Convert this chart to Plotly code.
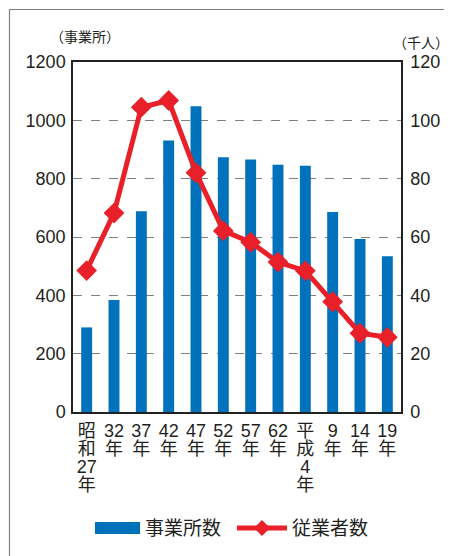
import plotly.graph_objects as go

categories = ["昭和27年", "32年", "37年", "42年", "47年", "52年", "57年", "62年", "平成4年", "9年", "14年", "19年"]
tick_label_lines = [["昭", "和", "27", "年"], ["32", "年"], ["37", "年"], ["42", "年"], ["47", "年"],
                    ["52", "年"], ["57", "年"], ["62", "年"], ["平", "成", "4", "年"], ["9", "年"],
                    ["14", "年"], ["19", "年"]]
establishments = [290, 384, 688, 931, 1048, 873, 866, 848, 844, 686, 593, 534]
employees = [48.5, 68.2, 104.5, 106.8, 82.0, 62.1, 58.2, 51.4, 48.4, 37.8, 27.0, 25.6]
left_ticks = [0, 200, 400, 600, 800, 1000, 1200]
right_ticks = [0, 20, 40, 60, 80, 100, 120]

BLUE = "#0071bb"
RED = "#e8202a"
TXT = "#231f20"
FONT = "Liberation Sans, Noto Sans CJK JP, sans-serif"

fig = go.Figure()
fig.add_trace(go.Bar(x=categories, y=establishments, width=0.4, marker=dict(color=BLUE, line=dict(width=0)),
                     name="事業所数", showlegend=False))
fig.add_trace(go.Scatter(x=categories, y=employees, yaxis="y2", mode="lines+markers",
                         line=dict(color=RED, width=5), marker=dict(symbol="diamond", size=16, color=RED),
                         name="従業者数", showlegend=False))

# page body has an 8px default margin; figure sized to fit the window
OFF = 8
W, H = 452 - OFF, 556 - OFF
L, T = 73 - OFF, 62 - OFF
R = W - (401 - OFF)
B = H - (412 - OFF)
pw, ph = W - L - R, H - T - B


def px2x(px):
    return (px - OFF - L) / pw


def py2y(py):
    return (H - B - (py - OFF)) / ph


# vertical tick labels: line spacing from a 14px base, glyphs drawn at 18px
tick_text = ["<br>".join("<span style='font-size:18px'>%s</span>" % s for s in lines)
             for lines in tick_label_lines]

annotations = []
annotations.append(dict(x=px2x(85), y=py2y(37), xref="paper", yref="paper", text="（事業所）",
                        xanchor="center", yanchor="middle",
                        showarrow=False, font=dict(size=14, color=TXT, family=FONT)))
annotations.append(dict(x=px2x(421), y=py2y(43), xref="paper", yref="paper", text="（千人）",
                        xanchor="center", yanchor="middle",
                        showarrow=False, font=dict(size=14, color=TXT, family=FONT)))
annotations.append(dict(x=px2x(143), y=py2y(528), xref="paper", yref="paper", text="事業所数",
                        xanchor="left", yanchor="middle",
                        showarrow=False, font=dict(size=19, color=TXT, family=FONT)))
annotations.append(dict(x=px2x(290), y=py2y(528), xref="paper", yref="paper", text="従業者数",
                        xanchor="left", yanchor="middle",
                        showarrow=False, font=dict(size=19, color=TXT, family=FONT)))

shapes = [
    dict(type="rect", xref="paper", yref="paper", x0=px2x(9.5), x1=px2x(470), y0=py2y(600), y1=py2y(9.5),
         line=dict(color="#808080", width=1.2), fillcolor="rgba(0,0,0,0)", layer="below"),
    dict(type="rect", xref="paper", yref="paper", x0=px2x(95), x1=px2x(140), y0=py2y(534), y1=py2y(522),
         line=dict(width=0), fillcolor=BLUE),
    dict(type="line", xref="paper", yref="paper", x0=px2x(237), x1=px2x(287), y0=py2y(528), y1=py2y(528),
         line=dict(color=RED, width=5)),
    dict(type="path", xref="paper", yref="paper",
         path="M {a},{m} L {b},{t} L {c},{m} L {b},{bt} Z".format(
             a=px2x(254), b=px2x(262), c=px2x(270), m=py2y(528), t=py2y(520), bt=py2y(536)),
         line=dict(width=0), fillcolor=RED),
]

fig.update_layout(
    width=W, height=H, margin=dict(l=L, r=R, t=T, b=B, autoexpand=False),
    paper_bgcolor="white", plot_bgcolor="white",
    font=dict(family=FONT, color=TXT),
    xaxis=dict(type="category", tickvals=categories, ticktext=tick_text, tickangle=0,
               tickfont=dict(size=14, color=TXT, family=FONT),
               ticks="outside", ticklen=6, tickcolor="rgba(0,0,0,0)", showgrid=False, automargin=False,
               showline=True, linecolor="#222", linewidth=1.5, mirror=True, range=[-0.5, 11.5]),
    yaxis=dict(range=[0, 1200], tickvals=left_ticks, showgrid=True, gridcolor="#808080", griddash="dash",
               gridwidth=1, showline=True, linecolor="#222", linewidth=1.5, ticks="outside", ticklen=2,
               automargin=False,
               tickcolor="rgba(0,0,0,0)", tickfont=dict(size=18, color=TXT), zeroline=False, fixedrange=True),
    yaxis2=dict(range=[0, 120], tickvals=right_ticks, overlaying="y", side="right", showgrid=False,
                showline=True, linecolor="#222", linewidth=1.5, ticks="outside", ticklen=4, automargin=False,
                tickcolor="rgba(0,0,0,0)", tickfont=dict(size=18, color=TXT), zeroline=False),
    annotations=annotations, shapes=shapes, showlegend=False,
)
fig.write_html("out.html")
